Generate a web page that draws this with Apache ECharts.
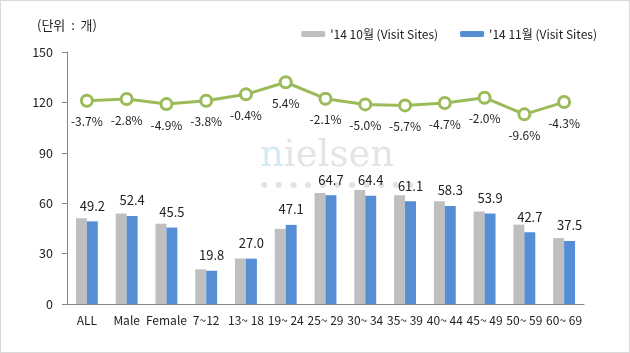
<!DOCTYPE html>
<html>
<head>
<meta charset="utf-8">
<script src="https://cdn.jsdelivr.net/npm/echarts@6/dist/echarts.min.js"></script>
<style>
  html, body { margin: 0; padding: 0; background: #fff; }
  #chart { width: 630px; height: 353px; box-sizing: border-box; border: 1px solid #d9d9d9; }
</style>
</head>
<body>
<div id="chart"></div>
<script>
// categories and values
var categories = ['ALL', 'Male', 'Female', '7~12', '13~ 18', '19~ 24', '25~ 29', '30~ 34', '35~ 39', '40~ 44', '45~ 49', '50~ 59', '60~ 69']
var octSites = [51.1, 53.9, 47.8, 20.6, 27.1, 44.7, 66.1, 67.8, 64.8, 61.2, 55.0, 47.2, 39.2]
var novSites = [49.2, 52.4, 45.5, 19.8, 27.0, 47.1, 64.7, 64.4, 61.1, 58.3, 53.9, 42.7, 37.5]
var changeLine = [121, 122, 119, 121, 124.8, 132, 122.2, 118.8, 118.2, 119.6, 122.8, 112.9, 120.2]
var changeLabels = ['-3.7%', '-2.8%', '-4.9%', '-3.8%', '-0.4%', '5.4%', '-2.1%', '-5.0%', '-5.7%', '-4.7%', '-2.0%', '-9.6%', '-4.3%']
var yTicks = { min: 0, max: 150, interval: 30 }

var font = "'Noto Sans CJK KR', 'Noto Sans', sans-serif"
var chart = echarts.init(document.getElementById('chart'))

chart.setOption({
  animation: false,
  textStyle: { fontFamily: font },
  grid: { left: 66, right: 45, top: 51, bottom: 48 },
  legend: {
    top: 22,
    right: 27,
    itemWidth: 24,
    itemHeight: 6,
    itemGap: 22,
    textStyle: { fontSize: 12, color: '#222', fontFamily: font },
    data: ["'14 10월 (Visit Sites)", "'14 11월 (Visit Sites)"]
  },
  graphic: [
    {
      type: 'text', left: 36, top: 18,
      style: { text: '(단위  :  개)', fontSize: 13, fill: '#222', fontFamily: font }
    },
    {
      type: 'text', left: 259, top: 137, z: 0,
      style: {
        text: '{n|n}{r|ielsen}',
        rich: {
          n: { fontSize: 37, fontFamily: "'DejaVu Serif', serif", fill: '#d5ebf3' },
          r: { fontSize: 37, fontFamily: "'DejaVu Serif', serif", fill: '#e4e4e4' }
        }
      }
    },
    {
      type: 'text', left: 260, top: 180, z: 0,
      style: { text: '●   ●   ●   ●   ●   ●   ●   ●   ●   ●   ●', fontSize: 8, fill: '#e3e3e3', fontFamily: "'DejaVu Sans', sans-serif" }
    }
  ],
  xAxis: {
    type: 'category',
    data: categories,
    axisLine: { lineStyle: { color: '#868686' } },
    axisTick: { length: 5, lineStyle: { color: '#868686' } },
    axisLabel: { fontSize: 12, color: '#222', margin: 10, interval: 0 }
  },
  yAxis: {
    type: 'value',
    min: yTicks.min,
    max: yTicks.max,
    interval: yTicks.interval,
    splitLine: { show: false },
    axisLine: { show: true, lineStyle: { color: '#868686' } },
    axisTick: { show: true, length: 5, inside: false, lineStyle: { color: '#868686' } },
    axisLabel: { fontSize: 12.5, color: '#222', margin: 14 }
  },
  series: [
    {
      name: "'14 10월 (Visit Sites)",
      type: 'bar',
      data: octSites,
      barGap: '0%',
      barCategoryGap: '45%',
      itemStyle: { color: '#bfbfbf' }
    },
    {
      name: "'14 11월 (Visit Sites)",
      type: 'bar',
      data: novSites,
      itemStyle: { color: '#558ed5' },
      label: {
        show: true,
        position: 'top',
        distance: 9,
        fontSize: 13,
        color: '#222',
        fontFamily: font,
        formatter: function (p) { return p.value.toFixed(1) }
      }
    },
    {
      type: 'line',
      data: changeLine,
      z: 5,
      symbol: 'circle',
      symbolSize: 11,
      lineStyle: { color: '#9bbb59', width: 3 },
      itemStyle: { color: '#fff', borderColor: '#9bbb59', borderWidth: 3 },
      label: {
        show: true,
        position: 'bottom',
        distance: 8,
        fontSize: 12,
        color: '#222',
        fontFamily: font,
        formatter: function (p) { return changeLabels[p.dataIndex] }
      }
    }
  ]
})
</script>
</body>
</html>
